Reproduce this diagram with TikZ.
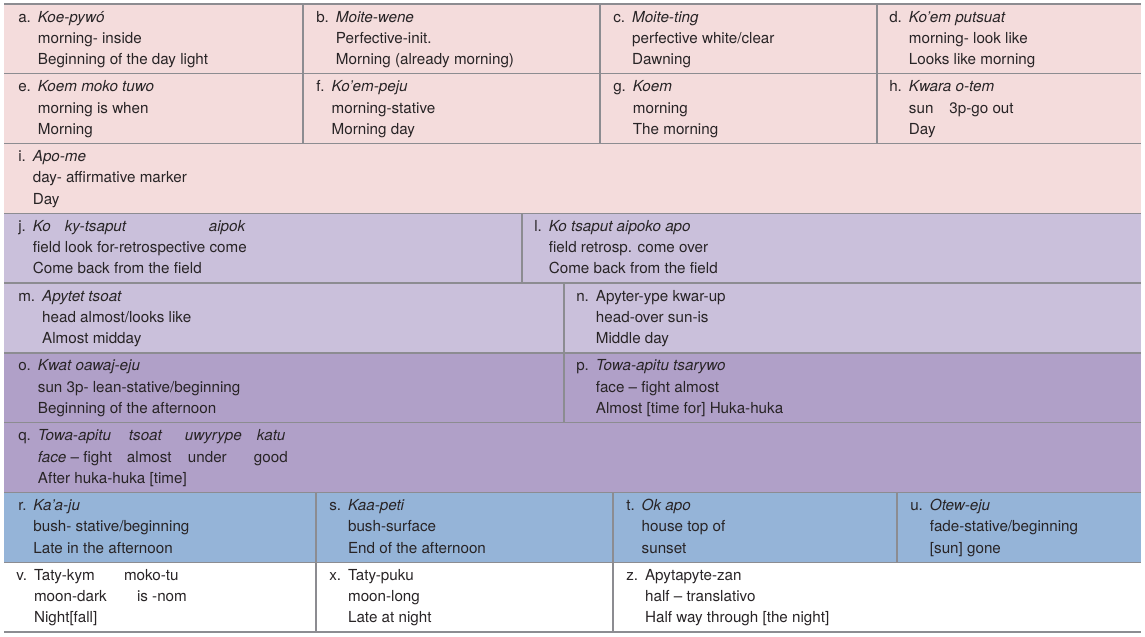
\documentclass[tikz,border=0pt]{standalone}
\usepackage{fontspec}
\setmainfont{TeX Gyre Heros}
\usetikzlibrary{positioning}
\definecolor{pinkRow}{RGB}{244,220,220}
\definecolor{lilacRow}{RGB}{202,192,219}
\definecolor{purpleRow}{RGB}{176,160,200}
\definecolor{blueRow}{RGB}{149,180,216}
\definecolor{ruleGrey}{RGB}{140,140,145}
\definecolor{inkGrey}{RGB}{40,36,38}
\newlength{\pxu}
\setlength{\pxu}{0.75pt}
\newcommand{\gloss}[4]{\begin{tabular}[t]{@{}l@{\hspace{7\pxu}}l@{}}#1 & #2\\ & #3\\ & #4\end{tabular}}
\tikzset{
  cell/.style={
    anchor=base west,
    inner sep=0pt,
    text=inkGrey,
    font=\fontsize{11.4}{16}\selectfont
  },
  rowRule/.style={draw=ruleGrey, line width=1pt},
  colRule/.style={draw=ruleGrey, line width=0.8pt}
}

\begin{document}
\begin{tikzpicture}[x=0.75pt, y=-0.75pt]
      \useasboundingbox (0,0) rectangle (1145,636);
      % bands
      \fill[pinkRow] (4,4) rectangle (1141,213.3);
      \fill[lilacRow] (4,213.3) rectangle (1141,352.9);
      \fill[purpleRow] (4,352.9) rectangle (1141,492.5);
      \fill[blueRow] (4,492.5) rectangle (1141,562.2);
      % rules
      \draw[rowRule] (4,4) -- (1141,4) (4,73.8) -- (1141,73.8) (4,143.6) -- (1141,143.6)
        (4,213.3) -- (1141,213.3) (4,283.1) -- (1141,283.1) (4,352.9) -- (1141,352.9)
        (4,422.7) -- (1141,422.7) (4,492.5) -- (1141,492.5) (4,562.2) -- (1141,562.2)
        (4,632) -- (1141,632);
      \draw[colRule] (303,4) -- (303,143.6) (600,4) -- (600,143.6) (877,4) -- (877,143.6);
      \draw[colRule] (522,213.3) -- (522,283.1);
      \draw[colRule] (564,283.1) -- (564,422.7);
      \draw[colRule] (316,492.5) -- (316,632) (613,492.5) -- (613,632) (897,492.5) -- (897,562.2);

      \node[cell] (CellA) at (18,22) {\gloss{a.}{\textit{Koe-pywó}}{morning- inside}{Beginning of the day light}};
      \node[cell] (CellB) at (316,22) {\gloss{b.}{\textit{Moite-wene}}{Perfective-init.}{Morning (already morning)}};
      \node[cell] (CellC) at (613,22) {\gloss{c.}{\textit{Moite-ting}}{perfective white/clear}{Dawning}};
      \node[cell] (CellD) at (889,22) {\gloss{d.}{\textit{Ko’em putsuat}}{morning- look like}{Looks like morning}};

      \node[cell] (CellE) at (18,91.8) {\gloss{e.}{\textit{Koem moko tuwo}}{morning is when}{Morning}};
      \node[cell] (CellF) at (316,91.8) {\gloss{f.}{\textit{Ko’em-peju}}{morning-stative}{Morning day}};
      \node[cell] (CellG) at (613,91.8) {\gloss{g.}{\textit{Koem}}{morning}{The morning}};
      \node[cell] (CellH) at (889,91.8) {\gloss{h.}{\textit{Kwara o-tem}}{sun\hspace{16\pxu}3p-go out}{Day}};

      \node[cell] (CellI) at (18,161.6) {\gloss{i.}{\textit{Apo-me}}{day- affirmative marker}{Day}};

      \node[cell] (CellJ) at (18,231.3) {\gloss{j.}{\textit{\makebox[32\pxu][l]{Ko}\makebox[144\pxu][l]{ky-tsaput}aipok}}{field look for-retrospective come}{Come back from the field}};
      \node[cell] (CellL) at (534,231.3) {\gloss{l.}{\textit{Ko tsaput aipoko apo}}{field retrosp. come over}{Come back from the field}};

      \node[cell] (CellM) at (18,301.1) {\gloss{m.}{\textit{Apytet tsoat}}{head almost/looks like}{Almost midday}};
      \node[cell] (CellN) at (576,301.1) {\gloss{n.}{Apyter-ype kwar-up}{head-over sun-is}{Middle day}};

      \node[cell] (CellO) at (18,370.9) {\gloss{o.}{\textit{Kwat oawaj-eju}}{sun 3p- lean-stative/beginning}{Beginning of the afternoon}};
      \node[cell] (CellP) at (576,370.9) {\gloss{p.}{\textit{Towa-apitu tsarywo}}{face -- fight almost}{Almost [time for] Huka-huka}};

      \node[cell] (CellQ) at (18,440.7) {\gloss{q.}{\textit{\makebox[91\pxu][l]{Towa-apitu}\makebox[56\pxu][l]{tsoat}\makebox[72\pxu][l]{uwyrype}katu}}{\makebox[89\pxu][l]{\textit{face} -- fight}\makebox[61\pxu][l]{almost}\makebox[66\pxu][l]{under}good}{After huka-huka [time]}};

      \node[cell] (CellR) at (18,510.5) {\gloss{r.}{\textit{Ka’a-ju}}{bush- stative/beginning}{Late in the afternoon}};
      \node[cell] (CellS) at (329,510.5) {\gloss{s.}{\textit{Kaa-peti}}{bush-surface}{End of the afternoon}};
      \node[cell] (CellT) at (626,510.5) {\gloss{t.}{\textit{Ok apo}}{house top of}{sunset}};
      \node[cell] (CellU) at (910,510.5) {\gloss{u.}{\textit{Otew-eju}}{fade-stative/beginning}{[sun] gone}};

      \node[cell] (CellV) at (16,580.2) {\gloss{v.}{\makebox[90\pxu][l]{Taty-kym}moko-tu}{\makebox[103\pxu][l]{moon-dark}is -nom}{Night[fall]}};
      \node[cell] (CellX) at (329,580.2) {\gloss{x.}{Taty-puku}{moon-long}{Late at night}};
      \node[cell] (CellZ) at (626,580.2) {\gloss{z.}{Apytapyte-zan}{half -- translativo}{Half way through [the night]}};
\end{tikzpicture}
\end{document}
